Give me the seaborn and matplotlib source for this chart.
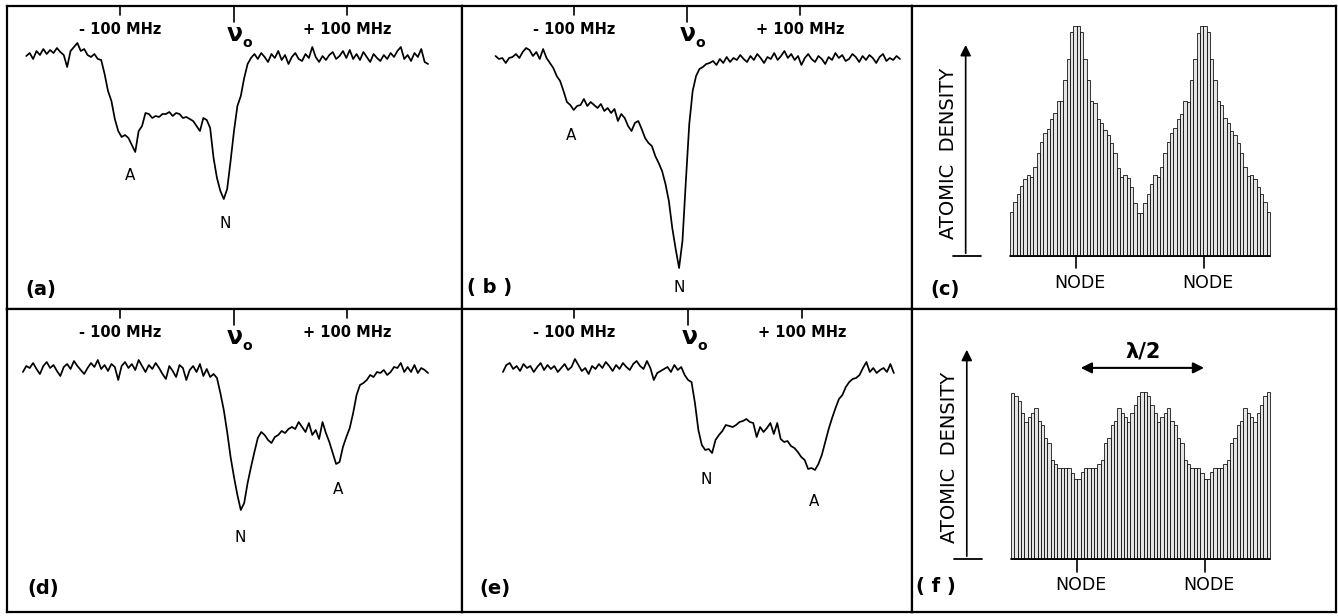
import numpy as np
import matplotlib
matplotlib.use("Agg")
import matplotlib.pyplot as plt
import seaborn as sns

# ---------------- data ----------------
STEP = 3.0  # MHz sampling of the traces

# (a) signal (arbitrary units) sampled from F0_A every STEP MHz
F0_A = -183
sig_a = [253, 256, 250, 258, 254, 260, 255, 259, 256, 261, 257, 254, 242, 258, 262, 266, 258, 260, 254, 252,
         255, 250, 249,
         235, 218, 208, 190, 178, 172, 174, 171, 164, 157, 178, 183, 196, 195, 191, 193, 192, 195, 195, 197,
         193, 196, 195, 191, 192, 190, 188, 183, 178, 191, 189, 181, 151, 131, 118, 110, 120, 148, 178, 203,
         213, 231, 245, 251, 255,
         250, 256, 252, 247, 255, 251, 258, 249, 254, 245, 252, 256, 250, 248, 255, 251, 262, 252, 247, 253,
         249, 254, 257, 250, 253, 258, 251, 259, 250, 255, 249, 257, 252, 247, 255, 251, 248, 254, 250, 256,
         252, 258, 262, 250, 254, 248, 256, 252, 260, 247, 245]

F0_B = -169
sig_b = [253, 250, 251, 246, 251, 252, 255, 251, 257, 261,
         259, 253, 257, 250, 260, 251, 246, 241, 233, 228,
         218, 207, 204, 199, 203, 204, 210, 203, 207, 204,
         201, 205, 198, 201, 196, 200, 188, 195, 191, 183,
         178, 186, 188, 180, 171, 166, 163, 153, 146, 138,
         125, 108, 81, 60, 41, 68, 128, 185, 218, 233,
         240, 242, 245, 246,
         248, 244, 250, 246, 252, 247, 251, 249, 254, 250, 247, 253, 249, 255, 251, 246, 252, 250, 256, 249,
         253, 258, 251, 255, 249, 253, 244, 251, 255, 250, 247, 253, 250, 245, 252, 249, 256, 251, 254, 248,
         250, 255, 252, 247, 253, 249, 254, 251, 246, 252, 255, 248, 251, 249, 253, 250]

F0_D = -186
sig_d = [240, 246, 244, 249, 243, 238, 246, 250, 244, 247,
         241, 236, 245, 248, 243, 251, 246, 242, 238, 244,
         249, 245, 252, 243, 247, 241, 248, 245, 232, 246,
         250, 244, 248, 242, 252, 246, 240, 247, 243, 249,
         244, 238, 233, 246, 241, 235, 247, 244, 232, 242,
         246, 240, 248, 236, 243, 235, 238,
         234, 219, 202, 180, 155, 135, 117, 102, 109, 129,
         145, 160, 174, 180, 177, 172, 169, 175, 177, 181,
         179, 183, 185, 183, 190, 185, 180, 189, 177, 182,
         173, 190, 179, 170, 159, 148, 150, 165, 175, 184,
         199, 217, 227, 229, 232, 237, 235, 240, 239, 242,
         237, 240, 245, 244, 249, 240, 245, 240, 247, 239,
         244, 242, 239]

F0_E = -162
sig_e = [240, 247, 249, 243, 246, 241, 248, 244, 246, 240,
         245, 249, 242, 247, 243, 246, 240, 244, 248, 242,
         245, 253, 247, 241, 244, 238, 246, 243, 248, 244,
         250, 246, 241, 247, 243, 249, 245, 242, 248, 251,
         246, 243, 251, 244,
         232, 239, 241, 243, 245, 240, 247, 242, 245, 237,
         232, 230, 209, 182, 167, 162, 163, 159, 172, 177,
         181, 187, 186, 185, 187, 190, 191, 193, 190, 189,
         175, 185, 180, 184, 189, 178, 189, 173, 170, 171,
         166, 164, 160, 155, 152, 143, 144, 142, 148, 157,
         170, 183, 194, 204, 213, 217, 225, 230, 233, 234,
         237, 244, 250, 240, 244, 239, 242, 244, 240, 248,
         239]

# (c) and (f) atomic density histograms (relative units)
dens_c = [19.3, 23.6, 27.2, 30.6, 33.3, 35.1, 34.5, 38.8, 44.9, 49.7, 53.3, 55.1, 59.4, 62.0, 67.5, 67.5,
          76.5, 85.5, 97.5, 100, 100, 97.5, 85.5, 76.5, 67.5, 66.4, 59.4, 57.7, 54.8, 52.6, 49.3, 44.6,
          38.1, 34.5, 35.1, 33.8, 30.1, 22.9, 18.8,
          18.8, 23.2, 27.2, 31.3, 35.1, 34.5, 38.6, 44.6, 49.7, 53.3, 55.5, 59.4, 61.7, 67.5, 67.0, 76.5,
          85.5, 97.1, 100, 100, 97.5, 85.5, 76.5, 67.5, 65.7, 59.9, 57.7, 54.5, 52.6, 49.0, 44.6, 38.8,
          34.8, 35.1, 33.3, 30.1, 27.2, 23.6, 19.3]
dens_f = [99.4, 97.4, 94.6, 87.1, 82.1, 84.7, 87.5, 90.0, 82.7, 80.1, 72.1, 69.5, 59.2, 56.8, 54.2, 54.2,
          54.2, 54.2, 51.6, 47.6, 47.6, 52.2, 54.2, 54.2, 54.2, 54.2, 56.8, 59.2, 69.5, 72.1, 80.1, 82.7,
          90.0, 87.5, 85.1, 82.1, 87.1, 92.0, 97.4, 100, 100, 97.4, 92.0, 87.1, 82.1, 85.1, 87.5, 90.0,
          82.7, 80.1, 72.1, 69.5, 59.2, 56.8, 54.2, 54.2, 54.2, 51.6, 47.6, 47.6, 52.2, 54.2, 54.2, 54.2,
          56.8, 59.2, 69.5, 72.1, 80.1, 82.7, 90.0, 87.5, 85.1, 82.1, 87.1, 92.0, 97.4, 100]
nodes_c = [19.3, 57.8]
nodes_f = [19.4, 57.9]

tick_mhz = [-100, 0, 100]
tick_text = ["- 100 MHz", "+ 100 MHz"]

# ---------------- figure ----------------
sns.set_theme(style="white")
plt.rcParams['font.family'] = ['DejaVu Sans']
plt.rcParams['text.color'] = 'black'

W, H = 1338, 616
fig = plt.figure(figsize=(W / 100, H / 100), dpi=100)
fig.patch.set_facecolor("white")


def cell(x0, y0, x1, y1):
    return fig.add_axes([x0 / W, 1 - y1 / H, (x1 - x0) / W, (y1 - y0) / H])


def frame(ax):
    ax.set_xticks([])
    ax.set_yticks([])
    ax.set_xlabel("")
    ax.set_ylabel("")
    for s in ax.spines.values():
        s.set_visible(True)
        s.set_linewidth(1.6)
        s.set_color("black")


TOPV = 303


def spectrum(ax, f0, sig, xlim, marks, plabel, plabel_xy):
    freq = f0 + STEP * np.arange(len(sig))
    sns.lineplot(x=freq, y=sig, ax=ax, color="black", linewidth=1.25)
    ax.set_xlim(*xlim)
    ax.set_ylim(0, TOPV)
    frame(ax)
    for x in tick_mhz:
        L = 16 if x == 0 else 9
        ax.axvline(x, ymin=1 - L / TOPV, ymax=1, color="black", lw=1.2)
    ax.text(-100, 280, tick_text[0], ha="center", va="center", fontsize=10.5, fontweight="bold")
    ax.text(100, 280, tick_text[1], ha="center", va="center", fontsize=10.5, fontweight="bold")
    ax.text(1, 275, "ν", ha="center", va="center", fontsize=17, fontweight="bold")
    ax.text(12, 266, "o", ha="center", va="center", fontsize=10, fontweight="bold")
    for t, x, y in marks:
        ax.text(x, y, t, ha="center", va="center", fontsize=11)
    ax.text(*plabel_xy, plabel, transform=ax.transAxes, ha="center", va="center",
            fontsize=14, fontweight="bold")


ax_a = cell(7, 6, 462, 309)
spectrum(ax_a, F0_A, sig_a, (-200, 200.9), [("A", -91.6, 133), ("N", -7.9, 86)], "(a)", (0.075, 0.066))
ax_b = cell(462, 6, 912, 309)
spectrum(ax_b, F0_B, sig_b, (-198.6, 198.6), [("A", -102, 173), ("N", -7, 21)], "( b )", (0.062, 0.07))
ax_d = cell(7, 309, 462, 612)
spectrum(ax_d, F0_D, sig_d, (-200, 200.9), [("N", 5.3, 75), ("A", 91.6, 123)], "(d)", (0.079, 0.076))
ax_e = cell(462, 309, 912, 612)
spectrum(ax_e, F0_E, sig_e, (-197.8, 195.9), [("N", 16, 132), ("A", 110, 110)], "(e)", (0.073, 0.076))


def density(ax, dens, nodes, xlim, ylim, arrow_top, tick_len, node_txt_y, label, label_xy):
    idx = np.arange(len(dens))
    sns.barplot(x=idx, y=dens, ax=ax, color="#e4e4e4", edgecolor="black", linewidth=0.55,
                width=1.0, native_scale=True, saturation=1)
    ax.set_xlim(*xlim)
    ax.set_ylim(*ylim)
    frame(ax)
    ax.plot([-0.5, len(dens) - 0.5], [0, 0], color="black", lw=1.3)
    ax.plot([-17.6, -9.3], [0, 0], color="black", lw=1.3)
    ax.annotate("", xy=(-13.8, arrow_top), xytext=(-13.8, 0),
                arrowprops=dict(arrowstyle="-|>", color="black", lw=1.2, mutation_scale=16))
    ax.text(-19.0, arrow_top * 0.48, "ATOMIC  DENSITY", rotation=90, ha="center", va="center",
            fontsize=14)
    for n in nodes:
        ax.plot([n, n], [0, -tick_len], color="black", lw=1.2)
        ax.text(n + 1.2, node_txt_y, "NODE", ha="center", va="center", fontsize=12.5)
    ax.text(*label_xy, label, transform=ax.transAxes, ha="center", va="center",
            fontsize=14, fontweight="bold")


ax_c = cell(912, 6, 1336, 309)
density(ax_c, dens_c, nodes_c, (-29.9, 97.3), (-23.0, 108.7), 93, 5.2, -11.7, "(c)", (0.077, 0.066))
ax_f = cell(912, 309, 1336, 612)
density(ax_f, dens_f, nodes_f, (-30.3, 97.4), (-31.7, 149.4), 126.7, 7.8, -15.5, "( f )", (0.056, 0.083))
ax_f.annotate("", xy=(58.5, 114.2), xytext=(19.7, 114.2),
              arrowprops=dict(arrowstyle="<|-|>", color="black", lw=1.5, mutation_scale=16))
ax_f.text(39.3, 124, "λ/2", ha="center", va="center", fontsize=15, fontweight="bold")

fig.savefig("out.png", dpi=100, facecolor="white")
